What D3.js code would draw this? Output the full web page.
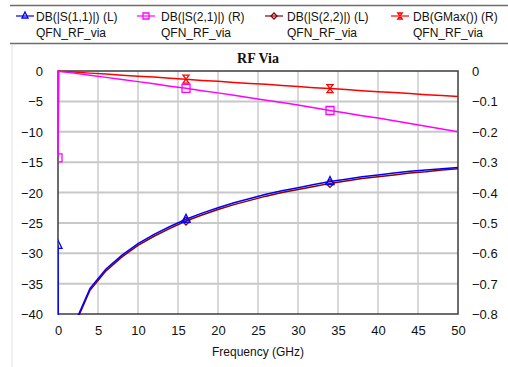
<!DOCTYPE html>
<html>
<head>
<meta charset="utf-8">
<script src="https://cdn.jsdelivr.net/npm/d3@7"></script>
<style>
  body { margin: 0; background: #fff; }
</style>
</head>
<body>
<svg id="chart" width="508" height="367" font-family="'Liberation Sans', Arial, sans-serif"></svg>
<script>
// frequency points (GHz)
const freq = [0, 0.1, 2, 4, 6, 8, 10, 12, 14, 16, 18, 20, 22, 24, 26, 28, 30, 32, 34, 36, 38, 40, 42, 44, 46, 48, 50];
// left axis series (dB)
const s11 = [-28.7, -70, -41.8, -35.8, -32.6, -30.3, -28.4, -26.9, -25.6, -24.4, -23.4, -22.5, -21.7, -21.0, -20.3, -19.7, -19.2, -18.7, -18.2, -17.8, -17.4, -17.1, -16.8, -16.5, -16.3, -16.1, -15.9];
const s22 = [-45, -70, -42.1, -36.1, -32.9, -30.6, -28.7, -27.2, -25.9, -24.7, -23.7, -22.8, -22.0, -21.3, -20.6, -20.0, -19.5, -19.0, -18.5, -18.1, -17.7, -17.4, -17.1, -16.8, -16.6, -16.3, -16.1];
// right axis series (dB)
const s21 = [-0.286, -0.001, -0.007, -0.014, -0.021, -0.028, -0.035, -0.042, -0.050, -0.057, -0.065, -0.072, -0.080, -0.088, -0.096, -0.104, -0.112, -0.121, -0.130, -0.138, -0.147, -0.155, -0.164, -0.173, -0.182, -0.191, -0.200];
const gmax = [0, -0.0005, -0.003, -0.007, -0.010, -0.014, -0.017, -0.020, -0.024, -0.027, -0.031, -0.034, -0.038, -0.041, -0.044, -0.048, -0.051, -0.055, -0.058, -0.061, -0.065, -0.068, -0.071, -0.074, -0.078, -0.081, -0.084];

const xTicks = [0, 5, 10, 15, 20, 25, 30, 35, 40, 45, 50];
const leftTicks = [0, -5, -10, -15, -20, -25, -30, -35, -40];
const rightTicks = [0, -0.1, -0.2, -0.3, -0.4, -0.5, -0.6, -0.7, -0.8];

const legendNames = ["DB(|S(1,1)|) (L)", "DB(|S(2,1)|) (R)", "DB(|S(2,2)|) (L)", "DB(GMax()) (R)"];
const legendSub = "QFN_RF_via";

const series = [
  {name: legendNames[0], vals: s11, axis: "L", color: "#0000ff", shape: "tri", marks: [0, 16, 34]},
  {name: legendNames[1], vals: s21, axis: "R", color: "#ff00ff", shape: "sq", marks: [0, 16, 34]},
  {name: legendNames[2], vals: s22, axis: "L", color: "#8b0000", shape: "dia", marks: [16, 34]},
  {name: legendNames[3], vals: gmax, axis: "R", color: "#ff0000", shape: "hg", marks: [16, 34]}
];

const svg = d3.select("#chart");
const pLeft = 58, pRight = 458, pTop = 71, pBottom = 314;

const x = d3.scaleLinear().domain([0, 50]).range([pLeft, pRight]);
const yL = d3.scaleLinear().domain([-40, 0]).range([pBottom, pTop]);
const yR = d3.scaleLinear().domain([-0.8, 0]).range([pBottom, pTop]);

// outer frame hints
svg.append("line").attr("x1", 12).attr("x2", 12).attr("y1", 45).attr("y2", 367)
  .attr("stroke", "#e2e2e2").attr("stroke-width", 1);
svg.append("line").attr("x1", 10).attr("x2", 508).attr("y1", 5.5).attr("y2", 5.5)
  .attr("stroke", "#6e6e6e").attr("stroke-width", 1.5);
svg.append("line").attr("x1", 10).attr("x2", 508).attr("y1", 43.5).attr("y2", 43.5)
  .attr("stroke", "#6e6e6e").attr("stroke-width", 1.5);

// grid
svg.append("g").selectAll("line").data(xTicks.slice(1, -1)).enter().append("line")
  .attr("x1", d => x(d)).attr("x2", d => x(d)).attr("y1", pTop).attr("y2", pBottom)
  .attr("stroke", "#d9d9d9").attr("stroke-width", 2);
svg.append("g").selectAll("line").data(leftTicks.slice(1, -1)).enter().append("line")
  .attr("x1", pLeft).attr("x2", pRight).attr("y1", d => yL(d)).attr("y2", d => yL(d))
  .attr("stroke", "#c8c8c8").attr("stroke-width", 2);

// frame
svg.append("rect").attr("x", pLeft).attr("y", pTop).attr("width", pRight - pLeft).attr("height", pBottom - pTop)
  .attr("fill", "none").attr("stroke", "#3c3c3c").attr("stroke-width", 1.5);

// axes (labels only)
const xAxis = svg.append("g").attr("transform", "translate(0," + pBottom + ")")
  .call(d3.axisBottom(x).tickValues(xTicks).tickSize(0).tickPadding(12));
const lAxis = svg.append("g").attr("transform", "translate(" + pLeft + ",0)")
  .call(d3.axisLeft(yL).tickValues(leftTicks).tickSize(0).tickPadding(15).tickFormat(d3.format("d")));
const rAxis = svg.append("g").attr("transform", "translate(" + pRight + ",0)")
  .call(d3.axisRight(yR).tickValues(rightTicks).tickSize(0).tickPadding(14).tickFormat(d => d === 0 ? "0" : d3.format(".1f")(d)));
[xAxis, lAxis, rAxis].forEach(a => {
  a.select(".domain").remove();
  a.attr("font-size", 13).attr("font-family", null);
  a.selectAll("text").attr("fill", "#111");
});
lAxis.selectAll("text").attr("dy", "0.35em");
rAxis.selectAll("text").attr("dy", "0.35em");

// title and axis label
svg.append("text").attr("x", 258).attr("y", 63).attr("text-anchor", "middle")
  .attr("font-family", "'Liberation Serif', 'Times New Roman', serif").attr("font-weight", "bold")
  .attr("font-size", 14).attr("fill", "#111").text("RF Via");
svg.append("text").attr("x", 258).attr("y", 356).attr("text-anchor", "middle")
  .attr("font-size", 12).attr("fill", "#111").text("Frequency (GHz)");

// clip
svg.append("clipPath").attr("id", "clip").append("rect")
  .attr("x", pLeft).attr("y", pTop - 1).attr("width", pRight - pLeft).attr("height", pBottom - pTop + 2);

function marker(g, shape, color, cx, cy, s) {
  let p;
  if (shape === "tri") p = `M${cx},${cy - s - 1}L${cx + s},${cy + s - 1}L${cx - s},${cy + s - 1}Z`;
  else if (shape === "sq") p = `M${cx - s},${cy - s}h${2 * s}v${2 * s}h${-2 * s}Z`;
  else if (shape === "dia") p = `M${cx},${cy - s}L${cx + s},${cy}L${cx},${cy + s}L${cx - s},${cy}Z`;
  else p = `M${cx - s * 0.75},${cy - s}H${cx + s * 0.75}L${cx - s * 0.75},${cy + s}H${cx + s * 0.75}Z`;
  g.append("path").attr("d", p).attr("fill", "none").attr("stroke", color).attr("stroke-width", 1.3);
}

const plot = svg.append("g").attr("clip-path", "url(#clip)");
// draw order: GMax, S21, S22, S11
[3, 1, 2, 0].forEach(i => {
  const s = series[i];
  const y = s.axis === "L" ? yL : yR;
  const line = d3.line().x((d, j) => x(freq[j])).y(d => y(d));
  plot.append("path").datum(s.vals).attr("d", line)
    .attr("fill", "none").attr("stroke", s.color).attr("stroke-width", 1.5);
  s.marks.forEach(f => {
    const j = freq.indexOf(f);
    marker(plot, s.shape, s.color, x(f), y(s.vals[j]), 4);
  });
});

// legend
const legX = [16, 137, 265, 391];
const legTextX = [36, 161, 287, 413];
series.forEach((s, i) => {
  const g = svg.append("g");
  g.append("line").attr("x1", legX[i]).attr("x2", legX[i] + 18).attr("y1", 16).attr("y2", 16)
    .attr("stroke", s.color).attr("stroke-width", 1.2);
  marker(g, s.shape, s.color, legX[i] + 9, 16, 3);
  g.append("text").attr("x", legTextX[i]).attr("y", 21).attr("font-size", 12)
    .attr("fill", "#111").text(s.name);
  g.append("text").attr("x", legTextX[i]).attr("y", 37).attr("font-size", 12)
    .attr("fill", "#111").text(legendSub);
});
</script>
</body>
</html>
